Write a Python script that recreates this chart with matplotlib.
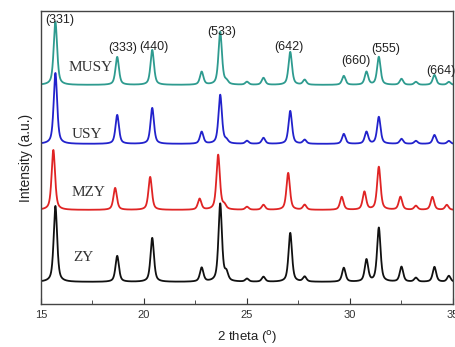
import numpy as np
import matplotlib
matplotlib.use("Agg")
import matplotlib.pyplot as plt
from matplotlib.ticker import MultipleLocator

plt.rcParams['font.family'] = ['Liberation Sans', 'DejaVu Sans']

# Peak positions (2 theta) and heights per sample (arbitrary units)
zy_pos = [15.7, 18.7, 20.4, 22.8, 23.7, 24.0, 25.0, 25.8, 27.1, 27.8, 29.7, 30.8, 31.4, 32.5, 33.2, 34.1, 34.8]
zy_h   = [76, 26, 44, 14, 78, 8, 3, 5, 49, 5, 14, 22, 54, 15, 4, 15, 6]
zy_base = 22

mzy_pos = [15.6, 18.6, 20.3, 22.7, 23.6, 23.9, 25.0, 25.8, 27.0, 27.8, 29.6, 30.7, 31.4, 32.45, 33.2, 34.0, 34.7]
mzy_h   = [60, 22, 33, 11, 55, 4, 3, 5, 37, 5, 13, 18, 43, 13, 4, 13, 5]
mzy_base = 94

usy_pos = [15.7, 18.7, 20.4, 22.8, 23.7, 24.0, 25.0, 25.8, 27.1, 27.8, 29.7, 30.8, 31.4, 32.5, 33.2, 34.1, 34.8]
usy_h   = [71, 29, 36, 12, 49, 3, 3, 6, 33, 4, 10, 12, 27, 5, 3, 9, 3]
usy_base = 160

musy_pos = [15.7, 18.7, 20.4, 22.8, 23.7, 24.0, 25.0, 25.8, 27.1, 27.8, 29.7, 30.8, 31.4, 32.5, 33.2, 34.1, 34.8]
musy_h   = [63, 28, 35, 13, 53, 3, 3, 7, 33, 5, 9, 13, 28, 6, 3, 10, 3]
musy_base = 219

samples = ["ZY", "MZY", "USY", "MUSY"]
colors = ["#111111", "#e02424", "#2222cc", "#2e9b8f"]

hkl_labels = ["(331)", "(333)", "(440)", "(533)", "(642)", "(660)", "(555)", "(664)"]
hkl_x = [15.9, 18.95, 20.5, 23.75, 27.05, 30.3, 31.75, 34.4]
hkl_y = [284, 256, 257, 272, 257, 243, 255, 233]

x = np.linspace(15, 35, 4001)
fwhm = 0.2

def profile(pos, h, base):
    y = np.full_like(x, float(base))
    g = fwhm / 2
    for p, a in zip(pos, h):
        lor = g**2 / ((x - p)**2 + g**2)
        gau = np.exp(-4 * np.log(2) * (x - p)**2 / fwhm**2)
        y += a * (0.6 * lor + 0.4 * gau)
    return y

data = [(zy_pos, zy_h, zy_base), (mzy_pos, mzy_h, mzy_base),
        (usy_pos, usy_h, usy_base), (musy_pos, musy_h, musy_base)]

fig = plt.figure(figsize=(4.56, 3.47), dpi=100)
ax = fig.add_axes([0.0899, 0.1239, 0.9035, 0.8444])

for (pos, h, base), c in zip(data, colors):
    ax.plot(x, profile(pos, h, base), color=c, lw=1.3)

name_xy = [(16.55, 47), (16.5, 112), (16.5, 170), (16.35, 237)]
for name, (nx, ny) in zip(samples, name_xy):
    ax.text(nx, ny, name, family='Liberation Serif', fontsize=11, color='#333333',
            ha='left', va='center')

for lab, lx, ly in zip(hkl_labels, hkl_x, hkl_y):
    ax.text(lx, ly, lab, fontsize=9, color='#222222', ha='center', va='center')

ax.set_xlim(15, 35)
ax.set_ylim(0, 293)
ax.xaxis.set_major_locator(MultipleLocator(5))
ax.xaxis.set_minor_locator(MultipleLocator(2.5))
ax.tick_params(axis='x', which='both', direction='in', labelsize=8, colors='#333333', pad=4)
ax.tick_params(axis='x', which='major', length=4)
ax.tick_params(axis='x', which='minor', length=3)
ax.set_yticks([])
for s in ax.spines.values():
    s.set_color('#444444')
    s.set_linewidth(1.0)

ax.set_xlabel("2 theta ($^{\\rm o}$)", fontsize=9.5, color='#222222', labelpad=7)
ax.set_ylabel("Intensity (a.u.)", fontsize=10, color='#222222', labelpad=6)

fig.savefig("out.png", dpi=100)
